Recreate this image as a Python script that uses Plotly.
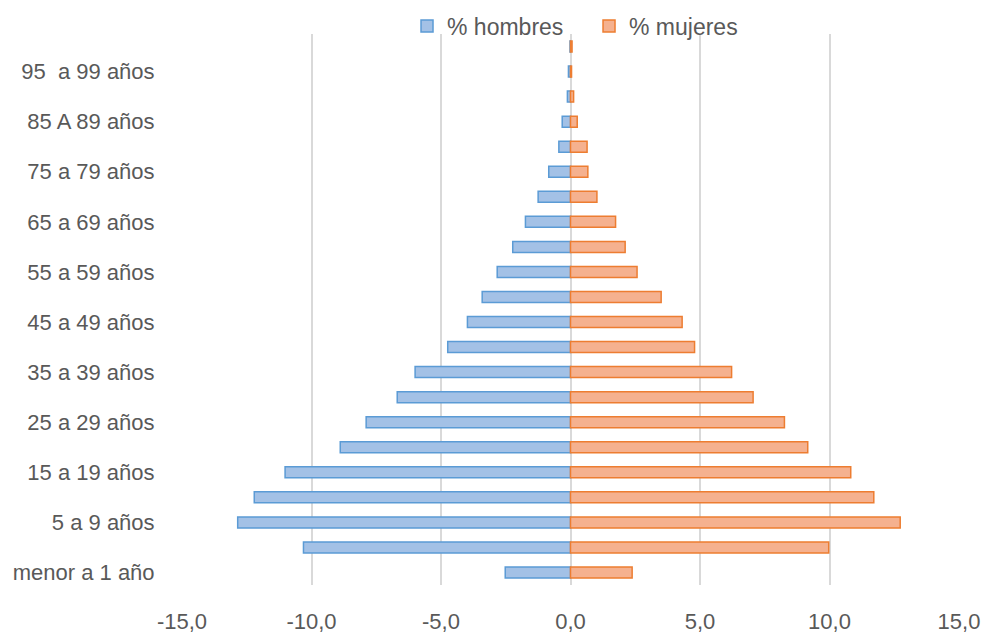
import plotly.graph_objects as go

# Age groups, bottom to top
grupos = [
    "menor a 1 año", "1 a 4 años", "5 a 9 años", "10 a 14 años", "15 a 19 años",
    "20 a 24 años", "25 a 29 años", "30 a 34 años", "35 a 39 años", "40 a 44 años",
    "45 a 49 años", "50 a 54 años", "55 a 59 años", "60 a 64 años", "65 a 69 años",
    "70 a 74 años", "75 a 79 años", "80 a 84 años", "85 A 89 años", "90 a 94 años",
    "95  a 99 años", "100 años y más",
]

# Share of population (%) – men drawn on the negative side
hombres = [-2.52, -10.31, -12.85, -12.21, -11.02, -8.89, -7.89, -6.69, -6.00, -4.74,
           -3.98, -3.41, -2.83, -2.23, -1.74, -1.25, -0.84, -0.45, -0.32, -0.12,
           -0.08, -0.02]
mujeres = [2.38, 9.97, 12.73, 11.71, 10.82, 9.16, 8.26, 7.05, 6.22, 4.79,
           4.31, 3.50, 2.57, 2.11, 1.74, 1.02, 0.67, 0.64, 0.26, 0.12,
           0.04, 0.06]

x_ticks = [-15, -10, -5, 0, 5, 10, 15]
x_tick_text = ["-15,0", "-10,0", "-5,0", "0,0", "5,0", "10,0", "15,0"]

FONT = "Liberation Sans, Arial, sans-serif"
GRIS = "#595959"

fig = go.Figure()
fig.add_trace(go.Bar(
    y=grupos, x=hombres, orientation="h", name="% hombres",
    marker=dict(color="#A3C1E6", line=dict(color="#5B9BD5", width=1.5)),
))
fig.add_trace(go.Bar(
    y=grupos, x=mujeres, orientation="h", name="% mujeres",
    marker=dict(color="#F5B18F", line=dict(color="#ED7D31", width=1.5)),
))

fig.update_layout(
    width=984, height=636,
    margin=dict(l=182, r=25, t=34, b=51, autoexpand=False),
    paper_bgcolor="white", plot_bgcolor="white",
    barmode="overlay", bargap=0.56,
    font=dict(family=FONT, color=GRIS),
    showlegend=True,
    legend=dict(
        orientation="h", x=0.2896, xanchor="left", y=1.0145, yanchor="middle",
        font=dict(size=23, color=GRIS), bgcolor="rgba(0,0,0,0)",
        itemwidth=30, entrywidth=137,
    ),
    xaxis=dict(
        range=[-15, 15], tickmode="array", tickvals=x_ticks, ticktext=x_tick_text,
        showgrid=True, gridcolor="#D9D9D9", gridwidth=1.5,
        zeroline=True, zerolinecolor="#D9D9D9", zerolinewidth=1.5,
        showline=False, ticks="outside", ticklen=17, tickcolor="rgba(0,0,0,0)",
        tickfont=dict(size=22, color=GRIS), automargin=False,
    ),
    yaxis=dict(
        type="category", categoryorder="array", categoryarray=grupos,
        range=[-0.5, len(grupos) - 0.5],
        tickmode="array", tickvals=grupos[:21:2], ticktext=grupos[:21:2],
        showgrid=False, showline=False, ticks="outside", ticklen=22,
        tickcolor="rgba(0,0,0,0)", tickfont=dict(size=22, color=GRIS),
        automargin=False,
    ),
)

fig.write_html("out.html")
